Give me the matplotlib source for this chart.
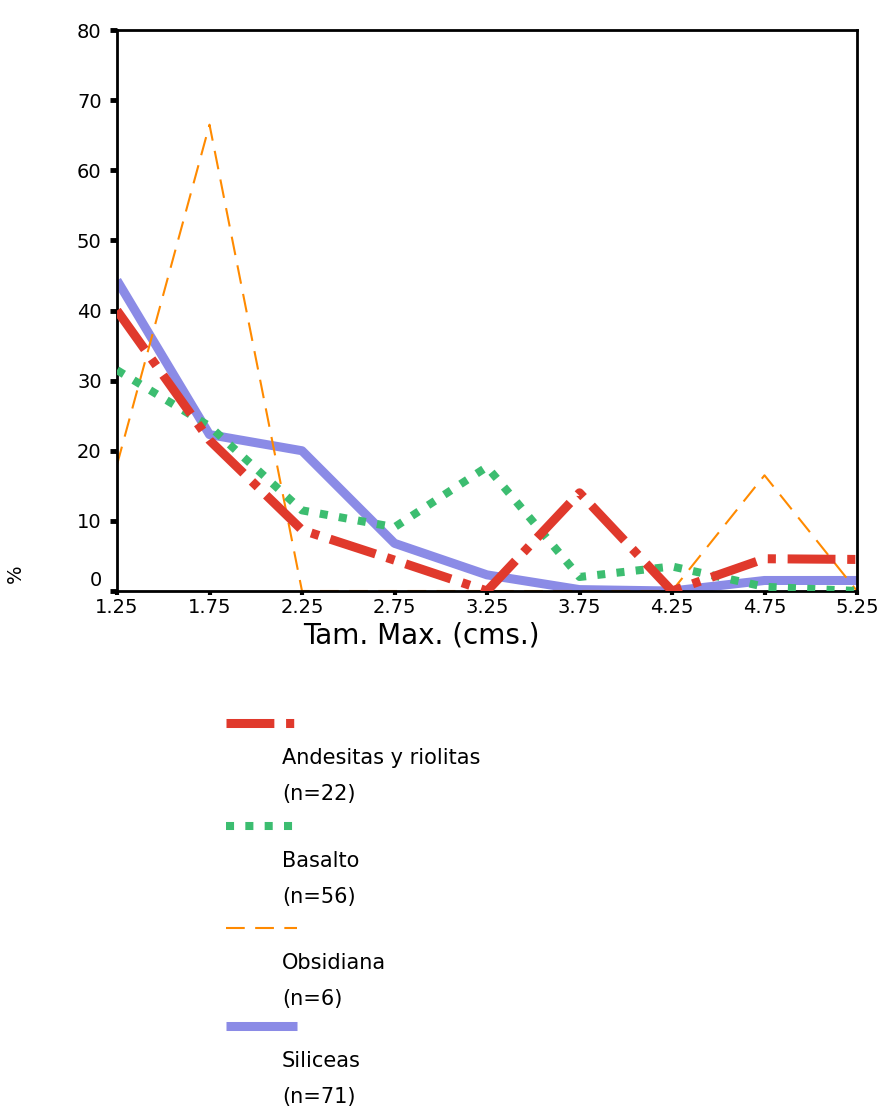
import numpy as np
import matplotlib.pyplot as plt
import matplotlib.transforms as mtransforms
from matplotlib.lines import Line2D

# DATOS
tam_max = [1.25, 1.75, 2.25, 2.75, 3.25, 3.75, 4.25, 4.75, 5.25]
etiquetas_x = ["1.25", "1.75", "2.25", "2.75", "3.25", "3.75", "4.25", "4.75", "5.25"]

andesitas = [40, 21.5, 8.7, 4.4, 0, 14, 0, 4.6, 4.5]
basalto = [31.5, 23.5, 11.5, 9.1, 17.7, 2, 3.5, 0.6, 0]
obsidiana = [18, 66.5, 0, 0, 0, 0, 0, 16.5, 0]
siliceas = [44.3, 22.3, 20, 6.8, 2.3, 0.2, 0, 1.5, 1.5]

nombres = ["Andesitas y riolitas", "Basalto", "Obsidiana", "Siliceas"]
conteos = ["(n=22)", "(n=56)", "(n=6)", "(n=71)"]

# ESTILOS
ROJO = "#E0392C"
VERDE = "#3CBD70"
NARANJA = "#FF8A00"
MORADO = "#8B8BE6"

plt.rcParams['font.family'] = ['DejaVu Sans']

fig = plt.figure(figsize=(8.83, 11.1), dpi=100)
ax = fig.add_axes([117/883, 1 - 591/1110, 740/883, 561/1110])

estilos = {
    "Siliceas": dict(color=MORADO, lw=6.5, ls='-', solid_capstyle='butt', zorder=2.1),
    "Obsidiana": dict(color=NARANJA, lw=1.5, ls=(0, (9, 5)), dash_capstyle='butt', zorder=2.2),
    "Basalto": dict(color=VERDE, lw=5.8, ls=(0, (1, 1.4)), dash_capstyle='butt', zorder=3),
    "Andesitas y riolitas": dict(color=ROJO, lw=6.5, ls=(0, (5.3, 1.3, 0.9, 1.3)), dash_capstyle='butt', zorder=4),
}

series = {
    "Andesitas y riolitas": andesitas,
    "Basalto": basalto,
    "Obsidiana": obsidiana,
    "Siliceas": siliceas,
}

for nombre in ["Siliceas", "Obsidiana", "Basalto", "Andesitas y riolitas"]:
    ax.plot(tam_max, series[nombre], **estilos[nombre])

ax.set_xlim(1.25, 5.25)
ax.set_ylim(0, 80)
ax.set_xticks(tam_max)
ax.set_xticklabels(etiquetas_x)
ax.set_yticks(np.arange(0, 81, 10))

for s in ax.spines.values():
    s.set_linewidth(2)
    s.set_zorder(2.5)

ax.tick_params(axis='y', direction='out', length=5, width=3.5, labelsize=14, pad=6)
ax.tick_params(axis='x', direction='out', length=3, width=3, labelsize=14, pad=2)

# etiqueta del 0 un poco mas arriba
desplaza = mtransforms.ScaledTranslation(0, 12/100, fig.dpi_scale_trans)
ax.get_yticklabels()[0].set_transform(ax.get_yticklabels()[0].get_transform() + desplaza)

ax.set_xlabel("Tam. Max. (cms.)", fontsize=20)
ax.xaxis.set_label_coords((421 - 117) / 740, -0.055)
ax.set_ylabel("%", fontsize=14, rotation=90)
ax.yaxis.set_label_coords(-0.125, 0.03)

# LEYENDA (debajo del grafico)
y_lineas = [723, 826, 928, 1026]
for i, nombre in enumerate(nombres):
    yl = 1 - y_lineas[i] / 1110
    linea = Line2D([226/883, 297/883], [yl, yl], transform=fig.transFigure,
                   **{k: v for k, v in estilos[nombre].items() if k != 'zorder'})
    fig.add_artist(linea)
    fig.text(282/883, 1 - (y_lineas[i] + 35) / 1110, nombre, fontsize=15, va='center')
    fig.text(282/883, 1 - (y_lineas[i] + 71) / 1110, conteos[i], fontsize=15, va='center')

fig.savefig("out.png", dpi=100)
